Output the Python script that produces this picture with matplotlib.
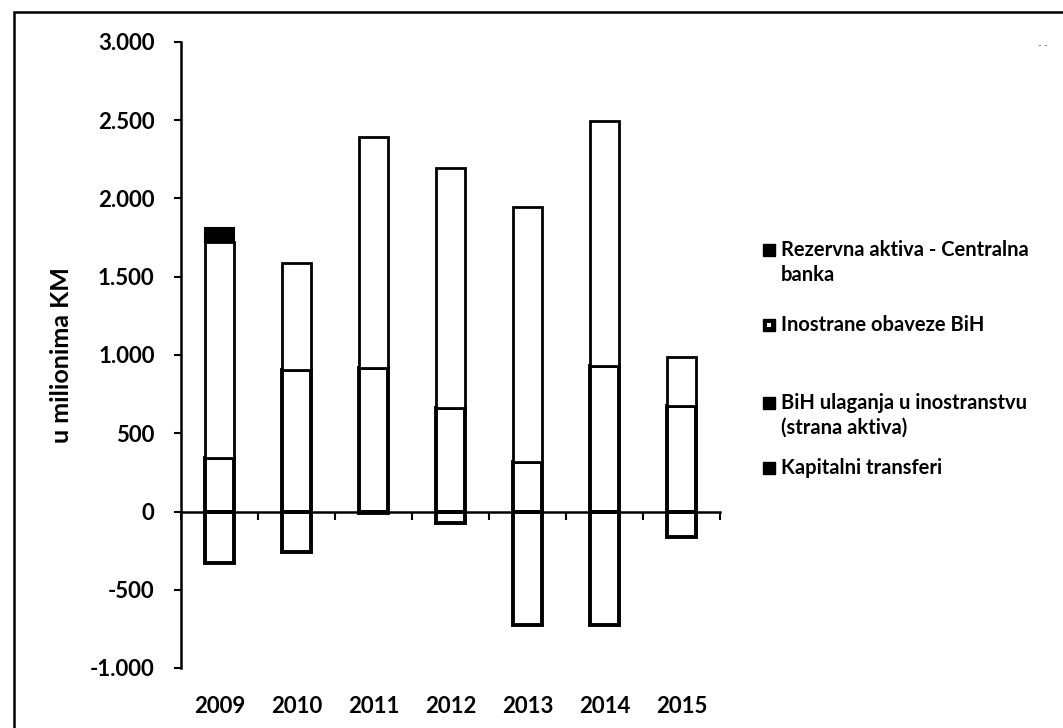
import numpy as np
import matplotlib
matplotlib.use("Agg")
import matplotlib.pyplot as plt
from matplotlib.patches import Rectangle
from matplotlib.ticker import FuncFormatter

plt.rcParams['font.family'] = ['Lato', 'DejaVu Sans']

# Podaci (u milionima KM), ocitano sa grafikona
godine = ['2009', '2010', '2011', '2012', '2013', '2014', '2015']
kapitalni_transferi = [340, 905, 920, 660, 316, 930, 674]
bih_ulaganja = [-330, -260, -10, -75, -725, -725, -160]
inostrane_obaveze = [1382, 685, 1470, 1535, 1630, 1565, 313]
rezervna_aktiva = [90, 0, 0, 0, 0, 0, 0]

# redoslijed slaganja (odozdo prema gore) i izgled
serije = [
    ('Kapitalni transferi', kapitalni_transferi, 'white', 2.8),
    ('BiH ulaganja u inostranstvu\n(strana aktiva)', bih_ulaganja, 'white', 2.8),
    ('Inostrane obaveze BiH', inostrane_obaveze, 'white', 2.0),
    ('Rezervna aktiva - Centralna\nbanka', rezervna_aktiva, 'black', 1.5),
]

W, H = 1063, 728
fig = plt.figure(figsize=(W / 100, H / 100), dpi=100)
ax = fig.add_axes([181 / W, (H - 668) / H, (720 - 181) / W, (668 - 42) / H])

x = np.arange(len(godine))
pos_base = np.zeros(len(godine))
neg_base = np.zeros(len(godine))
for naziv, vrijednosti, boja, lw in serije:
    v = np.array(vrijednosti, dtype=float)
    dno = np.where(v >= 0, pos_base, neg_base)
    maska = v != 0
    ax.bar(x[maska], v[maska], bottom=dno[maska], width=0.37,
           facecolor=boja, edgecolor='black', linewidth=lw, zorder=3)
    pos_base = pos_base + np.where(v > 0, v, 0)
    neg_base = neg_base + np.where(v < 0, v, 0)

ax.set_xlim(-0.5, len(godine) - 0.5)
ax.set_ylim(-1000, 3000)
ax.set_yticks(np.arange(-1000, 3001, 500))
ax.yaxis.set_major_formatter(FuncFormatter(lambda v, p: f"{int(v):,}".replace(',', '.')))
ax.tick_params(axis='y', direction='out', length=5, width=1.5, labelsize=16, pad=14)
for t in ax.get_yticklabels():
    t.set_fontweight('bold')

for s in ['top', 'right']:
    ax.spines[s].set_visible(False)
ax.spines['left'].set_linewidth(1.8)
ax.spines['bottom'].set_position(('data', 0))
ax.spines['bottom'].set_linewidth(1.8)
ax.spines['bottom'].set_zorder(4)
ax.set_xticks(np.arange(-0.5, len(godine), 1.0), minor=True)
ax.set_xticks([])
ax.tick_params(axis='x', which='minor', direction='out', length=6, width=1.5)

sec = ax.secondary_xaxis('bottom')
sec.set_xticks(x)
sec.set_xticklabels(godine, fontsize=16, fontweight='bold')
sec.tick_params(length=0, pad=20)
sec.spines['bottom'].set_visible(False)

ax.set_ylabel('u milionima KM', fontsize=18, fontweight='bold', labelpad=12)
ax.patch.set_visible(False)

# okvir oko grafikona
fig.patches.append(Rectangle((14 / W, -0.05), 1.1, (H - 12) / H + 0.05,
                             transform=fig.transFigure, fill=False,
                             edgecolor='black', linewidth=1.8))
fig.text(1043 / W, 1 - 45 / H, '- -', fontsize=7, color='0.4', ha='center', va='center')

# legenda
legenda_y = [250, 325, 403, 468]
for (naziv, vrijednosti, boja, lw), yy in zip(serije[::-1], legenda_y):
    fig.patches.append(Rectangle((763 / W, 1 - (yy + 6) / H), 12 / W, 12 / H,
                                 transform=fig.transFigure, facecolor='black',
                                 edgecolor='black', linewidth=1))
    if 'Inostrane' in naziv:
        fig.patches.append(Rectangle((767 / W, 1 - (yy + 2) / H), 4 / W, 4 / H,
                                     transform=fig.transFigure, facecolor='white',
                                     edgecolor='none'))
    fig.text(781 / W, 1 - (yy - 10) / H, naziv, fontsize=14.5, fontweight='bold',
             ha='left', va='top', linespacing=1.3)

fig.savefig('out.png', dpi=100)
